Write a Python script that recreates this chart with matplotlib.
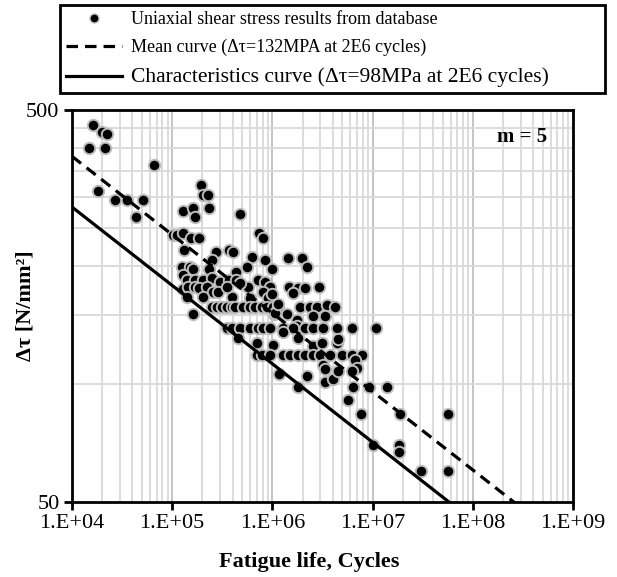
import numpy as np
import matplotlib.pyplot as plt
from matplotlib.ticker import FixedLocator, NullFormatter
from matplotlib.lines import Line2D

plt.rcParams['font.family'] = ['Liberation Serif', 'DejaVu Serif']

# uniaxial shear fatigue results (cycles to failure, stress range in N/mm2)
cycles = [
    1.63e4, 1.98e4, 2.22e4, 1.49e4, 2.13e4, 6.58e4, 1.83e4, 2.69e4, 3.58e4, 5.15e4, 4.38e4,
    1.27e5, 1.60e5, 1.69e5, 1.94e5, 2.04e5, 2.28e5, 2.33e5, 4.75e5,
    1.03e5, 1.11e5, 1.27e5, 1.53e5, 1.86e5, 7.4e5, 8.11e5,
    1.31e5, 2.72e5, 2.5e5, 3.71e5, 4.07e5, 6.30e5, 8.44e5, 1.44e6, 1.96e6, 2.20e6, 5.54e5,
    4.33e5, 9.84e5, 1.24e5, 1.50e5, 1.60e5, 2.33e5,
    1.27e5, 1.40e5, 1.69e5, 2.04e5, 2.48e5, 3.0e5, 3.71e5, 4.33e5, 5.75e5, 7.23e5, 8.44e5,
    9.46e5, 1.47e6, 1.81e6, 2.12e6, 2.94e6, 1.60e6,
    1.29e5, 1.45e5, 1.69e5, 1.86e5, 2.21e5, 2.57e5, 2.88e5, 1.40e5, 2.04e5, 1.60e5, 3.92e5,
    5.98e5, 8.11e5, 9.1e5, 9.84e5, 3.5e5, 4.75e5,
    2.48e5, 2.78e5, 3.12e5, 3.50e5, 3.92e5, 4.24e5, 5.13e5, 5.98e5, 6.70e5, 7.82e5, 8.77e5,
    1.02e6, 1.15e6,
    1.04e6, 1.39e6, 1.89e6, 2.37e6, 2.77e6, 3.48e6, 4.22e6, 2.56e6, 3.35e6, 1.75e6, 1.06e6,
    1.15e6, 1.75e6,
    3.5e5, 3.92e5, 4.75e5, 5.98e5, 7.23e5, 8.11e5, 9.46e5, 1.28e6, 1.62e6, 2.12e6, 2.56e6,
    3.22e6, 4.38e6, 6.18e6, 1.09e7,
    4.57e5, 7.06e5, 1.02e6, 1.81e6, 2.56e6, 3.11e6, 4.38e6, 4.55e6, 1.28e6,
    6.96e5, 7.82e5, 9.46e5, 1.28e6, 1.50e6, 1.81e6, 2.12e6, 2.56e6, 2.99e6, 3.76e6, 4.92e6,
    6.18e6, 7.79e6,
    3.22e6, 3.35e6, 6.67e6, 6.94e6, 6.18e6, 1.16e6, 2.20e6, 3.35e6, 4.0e6, 4.55e6, 1.79e6,
    6.33e6, 9.31e6, 1.38e7, 5.71e6, 7.66e6, 1.88e7, 5.60e7, 1.02e7, 1.85e7, 1.85e7, 3.01e7,
    5.60e7,
]
stress = [
    458, 439, 434, 399, 399, 363, 310, 295, 295, 295, 267,
    276, 281, 267, 322, 303, 303, 281, 272,
    240, 240, 243, 236, 236, 243, 236,
    220, 217, 207, 220, 217, 211, 207, 209, 209, 199, 199,
    193, 196, 199, 199, 196, 196,
    190, 184, 184, 184, 186, 182, 184, 184, 177, 184, 182,
    177, 177, 176, 176, 177, 171,
    175, 177, 177, 176, 177, 172, 172, 167, 167, 151, 167,
    166, 172, 166, 170, 177, 181,
    157, 157, 157, 157, 157, 157, 157, 157, 157, 157, 157,
    157, 157,
    151, 151, 157, 157, 157, 159, 157, 149, 149, 146, 152,
    160, 141,
    138.6, 138.6, 138.6, 138.6, 138.6, 138.6, 138.6, 138.6, 138.6, 138.6, 138.6,
    138.6, 138.6, 138.6, 138.6,
    131, 127, 126, 131, 125, 127, 127, 130, 136,
    118.6, 118.6, 118.6, 118.6, 118.6, 118.6, 118.6, 118.6, 118.6, 118.6, 118.6,
    118.6, 118.6,
    112, 109, 115, 110, 108, 106, 105, 101, 103, 108, 98,
    98, 98, 98, 91, 84, 84, 84, 70, 70, 67, 60,
    60,
]

# S-N curves, slope m, reference stress at 2E6 cycles
m_slope = 5
n_ref = 2e6
mean_ref = 132
char_ref = 98

x_ticks = [1e4, 1e5, 1e6, 1e7, 1e8, 1e9]
x_tick_labels = ['1.E+04', '1.E+05', '1.E+06', '1.E+07', '1.E+08', '1.E+09']
y_ticks = [50, 500]
y_tick_labels = ['50', '500']

fig = plt.figure(figsize=(6.17, 5.77), dpi=100)
ax = fig.add_axes([72 / 617, 1 - 502 / 577, 501 / 617, 392 / 577])
ax.set_xscale('log')
ax.set_yscale('log')
ax.set_xlim(x_ticks[0], x_ticks[-1])
ax.set_ylim(y_ticks[0], y_ticks[-1])

ax.xaxis.set_major_locator(FixedLocator(x_ticks))
ax.set_xticklabels(x_tick_labels)
ax.xaxis.set_minor_locator(FixedLocator([k * 10 ** d for d in range(4, 9) for k in range(2, 10)]))
ax.xaxis.set_minor_formatter(NullFormatter())
ax.yaxis.set_major_locator(FixedLocator(y_ticks))
ax.set_yticklabels(y_tick_labels)
ax.yaxis.set_minor_locator(FixedLocator([50 * k for k in range(2, 10)]))
ax.yaxis.set_minor_formatter(NullFormatter())
ax.tick_params(which='minor', length=0)
ax.tick_params(which='major', length=6, width=2, direction='out', labelsize=16, pad=3)

ax.grid(which='minor', color='#D9D9D9', lw=1.3)
ax.grid(which='major', axis='x', color='#BFBFBF', lw=1.3)
ax.set_axisbelow(True)
for s in ax.spines.values():
    s.set_linewidth(2)
    s.set_color('black')

ax.scatter(cycles, stress, s=68, c='black', edgecolors='#BDBDBD', linewidths=1.4, zorder=3)

n = np.logspace(4, 9, 100)
mean_curve = mean_ref * (n_ref / n) ** (1 / m_slope)
char_curve = char_ref * (n_ref / n) ** (1 / m_slope)
dash = (0, (3.6, 2.2))
ax.plot(n, mean_curve, color='black', lw=2.3, ls=dash, zorder=4)
ax.plot(n, char_curve, color='black', lw=2.3, zorder=4)

ax.text(0.898, 0.93, 'm = 5', transform=ax.transAxes, ha='center', va='center',
        fontsize=15, fontweight='bold')

ax.set_xlabel('Fatigue life, Cycles', fontsize=16, fontweight='bold')
ax.xaxis.set_label_coords(0.473, -0.128)
ax.set_ylabel('Δτ [N/mm²]', fontsize=16, fontweight='bold')
ax.yaxis.set_label_coords(-0.072, 0.5)

handles = [
    Line2D([], [], ls='none', marker='o', markersize=6.5, markerfacecolor='black',
           markeredgecolor='#BDBDBD', markeredgewidth=1),
    Line2D([], [], color='black', lw=2.3, ls=dash),
    Line2D([], [], color='black', lw=2.3),
]
labels = [
    'Uniaxial shear stress results from database',
    'Mean curve (Δτ=%dMPA at 2E6 cycles)' % mean_ref,
    'Characteristics curve (Δτ=%dMPa at 2E6 cycles)' % char_ref,
]
leg = fig.legend(handles, labels, loc='upper left', mode='expand',
                 bbox_to_anchor=(60 / 617, 1 - 97 / 577, 545 / 617, 92 / 577),
                 fontsize=13, frameon=True, fancybox=False, edgecolor='black', framealpha=1,
                 handlelength=3.1, handletextpad=0.5, borderpad=0.35, labelspacing=0.6,
                 borderaxespad=0)
leg.get_frame().set_linewidth(2)
leg.get_texts()[2].set_fontsize(15.5)

fig.savefig('out.png', dpi=100)
